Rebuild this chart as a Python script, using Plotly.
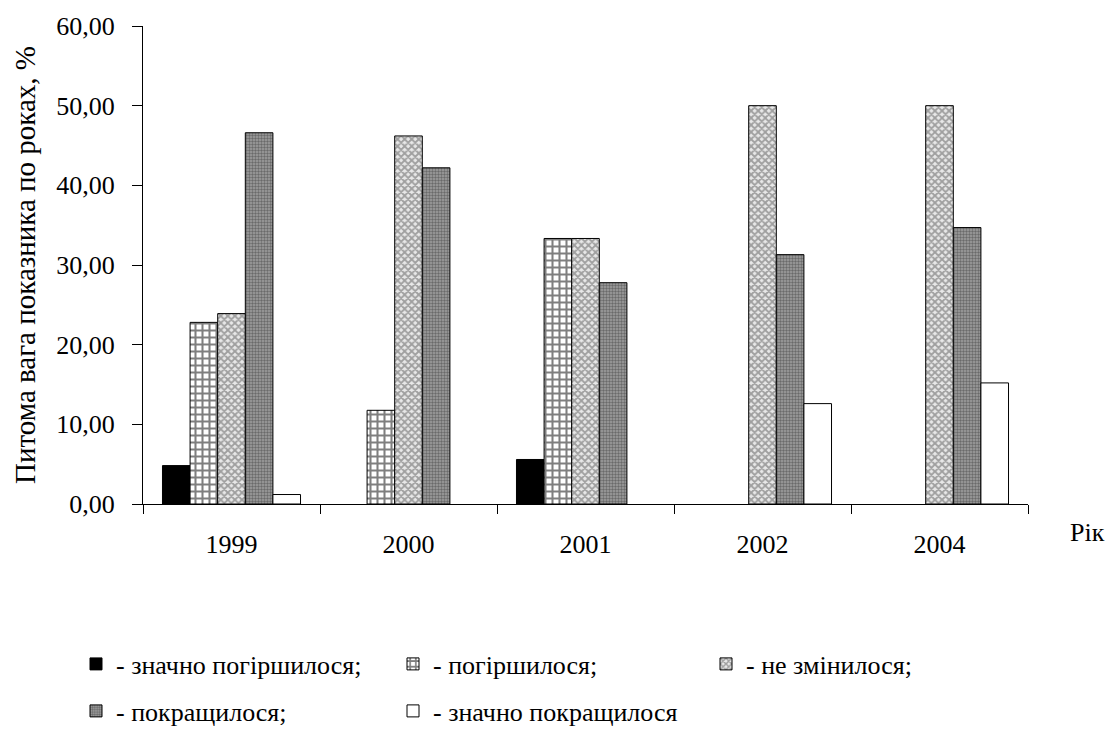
import plotly.graph_objects as go

# Years on the category axis
years = ["1999", "2000", "2001", "2002", "2004"]

# Share of the indicator per year, % (None = no bar)
sharply_worse = [4.82, None, 5.59, None, None]
worse = [22.8, 11.76, 33.33, None, None]
unchanged = [23.9, 46.2, 33.33, 50.00, 50.00]
better = [46.6, 42.2, 27.78, 31.3, 34.7]
sharply_better = [1.19, None, None, 12.6, 15.2]

names = [
    "- значно погіршилося;",
    "- погіршилося;",
    "- не змінилося;",
    "- покращилося;",
    "- значно покращилося",
]

FONT = "Liberation Serif"
FS = 26

series = [sharply_worse, worse, unchanged, better, sharply_better]
patterns = [
    dict(shape="", bgcolor="black"),
    dict(shape="+", fgcolor="black", bgcolor="white", size=7, solidity=0.5),
    dict(shape="x", fgcolor="#555555", bgcolor="#e8e8e8", size=5, solidity=0.6),
    dict(shape=".", fgcolor="#333333", bgcolor="#a0a0a0", size=3, solidity=0.5),
    dict(shape="", bgcolor="white"),
]
fills = ["black", "white", "#e8e8e8", "#a0a0a0", "white"]
# Legend grid: row 1 = legend + legend3, row 2 = legend2
legend_ids = ["legend", "legend", "legend3", "legend2", "legend2"]

fig = go.Figure()
for vals, name, pat, fill, lg in zip(series, names, patterns, fills, legend_ids):
    fig.add_trace(go.Bar(
        x=years, y=vals, name=name, legend=lg,
        marker=dict(color=fill, pattern=pat, line=dict(color="black", width=1)),
    ))

legend_style = dict(
    orientation="h", xref="container", yref="container",
    x=76 / 1117, xanchor="left", yanchor="middle",
    entrywidth=272, traceorder="normal",
    font=dict(family=FONT, size=FS, color="black"), itemwidth=30,
    bgcolor="rgba(0,0,0,0)",
)
row1_y = 1 - 664 / 745
row2_y = 1 - 711 / 745

fig.update_layout(
    width=1117, height=745,
    margin=dict(l=143, r=89, t=21, b=241),
    plot_bgcolor="white", paper_bgcolor="white",
    font=dict(family=FONT, size=FS, color="black"),
    barmode="group", bargap=0.22, bargroupgap=0,
    separators=", ",
    showlegend=True,
    legend=dict(legend_style, y=row1_y),
    legend2=dict(legend_style, y=row2_y),
    legend3=dict(legend_style, y=row1_y, x=706 / 1117),
    annotations=[dict(
        text="Рік", xref="paper", yref="paper", x=1.0667, y=-0.0594,
        xanchor="center", yanchor="middle",
        showarrow=False, font=dict(family=FONT, size=FS, color="black"),
    )],
)

fig.update_xaxes(
    type="category", showline=True, linecolor="black", linewidth=1,
    ticks="outside", tickson="boundaries", ticklen=9, tickcolor="black",
    showgrid=False, tickfont=dict(family=FONT, size=FS, color="black"),
    ticklabelstandoff=17,
)
fig.update_yaxes(
    range=[0, 60], dtick=10, tickformat=".2f",
    showline=True, linecolor="black", linewidth=1,
    ticks="outside", ticklen=10, tickcolor="black",
    showgrid=False, zeroline=False,
    tickfont=dict(family=FONT, size=FS, color="black"), ticklabelstandoff=12,
    title=dict(text="Питома вага показника по роках, %",
               font=dict(family=FONT, size=29, color="black"), standoff=12),
)

fig.write_html("out.html")
